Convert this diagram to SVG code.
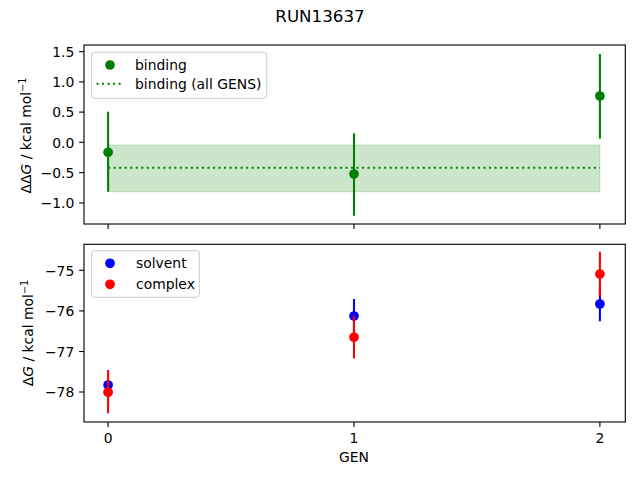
<svg xmlns="http://www.w3.org/2000/svg" width="640" height="480" viewBox="0 0 640 480">
<style>
text{font-family:"DejaVu Sans",sans-serif;fill:#000}
.t{font-size:13.9px}
.yt{text-anchor:end}
.xt{text-anchor:middle}
.sp{fill:none;stroke:#000;stroke-width:1.11}
.tk{stroke:#000;stroke-width:1.11}
.eb{stroke-width:2.08;fill:none}
.g{stroke:#008000}
.b{stroke:#0000ff}
.r{stroke:#ff0000}
.leg{fill:#fff;fill-opacity:0.8;stroke:#cccccc;stroke-width:1}
</style>
<rect width="640" height="480" fill="#fff"/>
<text x="320" y="21.7" text-anchor="middle" style="font-size:16.7px">RUN13637</text>

<g id="top-axes">
<rect x="108.1" y="145" width="491.8" height="46.7" fill="#008000" fill-opacity="0.2" stroke="#008000" stroke-opacity="0.2" stroke-width="1"/>
<line x1="108.1" y1="167.7" x2="599.9" y2="167.7" stroke="#008000" stroke-width="2.08" stroke-dasharray="2.08 3.44"/>
<g class="eb g">
<line x1="108.1" y1="111.7" x2="108.1" y2="191.7"/>
<line x1="354" y1="133.3" x2="354" y2="215.7"/>
<line x1="599.9" y1="54" x2="599.9" y2="138.7"/>
</g>
<g fill="#008000">
<circle cx="108.1" cy="152.3" r="4.86"/>
<circle cx="354" cy="174" r="4.86"/>
<circle cx="599.9" cy="96" r="4.86"/>
</g>
<rect class="sp" x="84" y="45" width="541.3" height="179"/>
<g class="tk">
<line x1="108.1" y1="224" x2="108.1" y2="228.9"/>
<line x1="354" y1="224" x2="354" y2="228.9"/>
<line x1="599.9" y1="224" x2="599.9" y2="228.9"/>
<line x1="84" y1="51.7" x2="79.1" y2="51.7"/>
<line x1="84" y1="81.9" x2="79.1" y2="81.9"/>
<line x1="84" y1="112.1" x2="79.1" y2="112.1"/>
<line x1="84" y1="142.3" x2="79.1" y2="142.3"/>
<line x1="84" y1="172.6" x2="79.1" y2="172.6"/>
<line x1="84" y1="203.0" x2="79.1" y2="203.0"/>
</g>
<g class="t yt">
<text x="74.3" y="56.9">1.5</text>
<text x="74.3" y="87.1">1.0</text>
<text x="74.3" y="117.3">0.5</text>
<text x="74.3" y="147.5">0.0</text>
<text x="74.3" y="177.8">−0.5</text>
<text x="74.3" y="208.2">−1.0</text>
</g>
<text class="t" transform="translate(31,135.5) rotate(-90)" text-anchor="middle">ΔΔ<tspan font-style="italic">G</tspan> / kcal mol<tspan dy="-5" style="font-size:9.7px">−1</tspan></text>
</g>

<g id="top-legend">
<rect class="leg" x="91.7" y="52.3" width="175" height="46" rx="2.8"/>
<circle cx="110" cy="65" r="4.86" fill="#008000"/>
<text class="t" x="135" y="69.5">binding</text>
<line x1="96.5" y1="83.7" x2="124" y2="83.7" stroke="#008000" stroke-width="2.08" stroke-dasharray="2.08 3.44"/>
<text class="t" x="135" y="89">binding (all GENS)</text>
</g>

<g id="bottom-axes">
<g class="eb b">
<line x1="108.1" y1="381" x2="108.1" y2="389"/>
<line x1="354" y1="299" x2="354" y2="333"/>
<line x1="599.9" y1="286.7" x2="599.9" y2="321.3"/>
</g>
<g fill="#0000ff">
<circle cx="108.1" cy="385" r="4.86"/>
<circle cx="354" cy="316" r="4.86"/>
<circle cx="599.9" cy="304" r="4.86"/>
</g>
<g class="eb r">
<line x1="108.1" y1="370" x2="108.1" y2="413.3"/>
<line x1="354" y1="315.5" x2="354" y2="358.5"/>
<line x1="599.9" y1="251.7" x2="599.9" y2="296.3"/>
</g>
<g fill="#ff0000">
<circle cx="108.1" cy="392.3" r="4.86"/>
<circle cx="354" cy="337.3" r="4.86"/>
<circle cx="599.9" cy="274" r="4.86"/>
</g>
<rect class="sp" x="84" y="244.3" width="541.3" height="177.7"/>
<g class="tk">
<line x1="108.1" y1="422" x2="108.1" y2="426.9"/>
<line x1="354" y1="422" x2="354" y2="426.9"/>
<line x1="599.9" y1="422" x2="599.9" y2="426.9"/>
<line x1="84" y1="270.3" x2="79.1" y2="270.3"/>
<line x1="84" y1="310.9" x2="79.1" y2="310.9"/>
<line x1="84" y1="351.5" x2="79.1" y2="351.5"/>
<line x1="84" y1="392.0" x2="79.1" y2="392.0"/>
</g>
<g class="t yt">
<text x="74.3" y="275.5">−75</text>
<text x="74.3" y="316.1">−76</text>
<text x="74.3" y="356.7">−77</text>
<text x="74.3" y="397.2">−78</text>
</g>
<g class="t xt">
<text x="108.1" y="443">0</text>
<text x="354" y="443">1</text>
<text x="599.9" y="443">2</text>
</g>
<text class="t xt" x="354" y="462">GEN</text>
<text class="t" transform="translate(33,333) rotate(-90)" text-anchor="middle">Δ<tspan font-style="italic">G</tspan> / kcal mol<tspan dy="-5" style="font-size:9.7px">−1</tspan></text>
</g>

<g id="bottom-legend">
<rect class="leg" x="91.7" y="250.7" width="107.6" height="46.6" rx="2.8"/>
<circle cx="110" cy="263.3" r="4.86" fill="#0000ff"/>
<text class="t" x="136" y="268">solvent</text>
<circle cx="110" cy="284.3" r="4.86" fill="#ff0000"/>
<text class="t" x="136" y="289">complex</text>
</g>
</svg>
